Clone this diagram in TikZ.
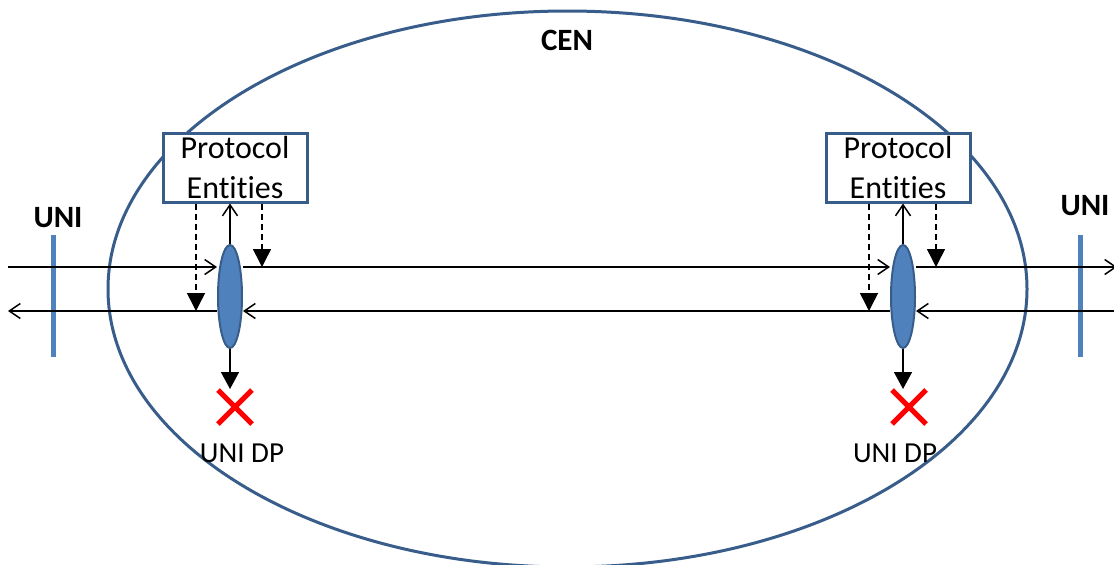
\documentclass[tikz,border=0pt]{standalone}
\usepackage{fontspec}
\setmainfont[Ligatures={NoCommon}]{Carlito}
\usetikzlibrary{arrows.meta,shapes.geometric}
\definecolor{dkblue}{HTML}{385D8A}
\definecolor{mdblue}{HTML}{4F81BD}
\definecolor{xred}{HTML}{FF0000}
\begin{document}
\begin{tikzpicture}[x=1pt,y=-1pt,
  censhape/.style={draw=dkblue, line width=3pt, ellipse, minimum width=919pt, minimum height=556pt, inner sep=0pt},
  pebox/.style={draw=dkblue, line width=3pt, fill=white, minimum width=144pt, minimum height=69pt, inner sep=0pt, align=center, font=\fontsize{32}{40}\selectfont},
  dp/.style={draw=dkblue, line width=2pt, fill=mdblue, ellipse, minimum width=24pt, minimum height=103pt, inner sep=0pt},
  unibar/.style={draw=mdblue, line width=5pt},
  flow/.style={line width=1.5pt, -{Straight Barb[length=11pt,width=15pt,line width=1.5pt]}},
  ctl/.style={line width=1.5pt, dash pattern=on 6pt off 4pt, -{Triangle[length=18pt,width=18pt,sep=0pt]}},
  tofilled/.style={line width=1.5pt, -{Triangle[length=17pt,width=18pt]}},
  redx/.style={draw=xred, line width=5pt},
  bold/.style={font=\fontsize{31}{36}\selectfont\bfseries},
  dptext/.style={font=\fontsize{29}{34}\selectfont}
]
\useasboundingbox (0,0) rectangle (1114,565);
\fill[white] (0,0) rectangle (1114,565);

% CEN cloud
\node[censhape] (cen) at (567.5,289) {};
\node[bold] (cenlabel) at (567,40) {CEN};

% UNI
\node[bold] (uniL) at (58,218) {UNI};
\node[bold] (uniR) at (1085,206) {UNI};
\coordinate (ubLt) at (53,235); \coordinate (ubLb) at (53,357);
\coordinate (ubRt) at (1080,235); \coordinate (ubRb) at (1080,357);
\draw[unibar] (ubLt) -- (ubLb);
\draw[unibar] (ubRt) -- (ubRb);

% Protocol entity boxes
\node[pebox] (peL) at (235,167.5) {Protocol\\Entities};
\node[pebox] (peR) at (898,167.5) {Protocol\\Entities};

% Data path ellipses
\node[dp] (dpL) at (230,296.5) {};
\node[dp] (dpR) at (903,296.5) {};

% end coordinates
\coordinate (inTop) at (8,267);
\coordinate (outTop) at (1117,267);
\coordinate (inBot) at (1120,311);
\coordinate (outBot) at (8,311);
\coordinate (dropL) at (230,389);
\coordinate (dropR) at (903,389);

% top flow (left to right)
\draw[flow] (inTop) -- (inTop -| dpL.west);
\draw[flow] (dpL.east |- inTop) -- (dpR.west |- inTop);
\draw[flow] (dpR.east |- inTop) -- (outTop);

% bottom flow (right to left)
\draw[flow] (inBot) -- (inBot -| dpR.east);
\draw[flow] (dpR.west |- inBot) -- (dpL.east |- inBot);
\draw[flow] (dpL.west |- inBot) -- (outBot);

% dashed control arrows
\draw[ctl] (peL.south -| 196,0) -- (196,311);
\draw[ctl] (peL.south -| 262,0) -- (262,267);
\draw[ctl] (peR.south -| 869,0) -- (869,311);
\draw[ctl] (peR.south -| 936,0) -- (936,267);

% up to protocol entities
\draw[flow] (dpL.north) -- (dpL.north |- peL.south);
\draw[flow] (dpR.north) -- (dpR.north |- peR.south);

% down to discard
\draw[tofilled] (dpL.south) -- (dropL);
\draw[tofilled] (dpR.south) -- (dropR);

% red crosses
\coordinate (xL) at (235,407);
\coordinate (xR) at (909,407);
\draw[redx, shift={(xL)}] (-17,-17) -- (17,17) (-17,17) -- (17,-17);
\draw[redx, shift={(xR)}] (-17,-17) -- (17,17) (-17,17) -- (17,-17);

\node[dptext] (dpLtext) at (242,453) {UNI DP};
\node[dptext] (dpRtext) at (895,453) {UNI DP};
\end{tikzpicture}
\end{document}
